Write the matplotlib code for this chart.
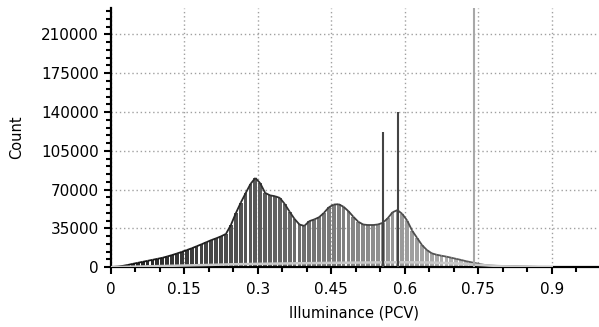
import numpy as np
import matplotlib
matplotlib.use("Agg")
import matplotlib.pyplot as plt
from matplotlib.collections import LineCollection
from matplotlib.ticker import MultipleLocator, FixedLocator

# histogram bins (left edges, step 0.01) and counts
bin_left = [round(0.01 * i, 2) for i in range(90)]
counts = [200, 500, 1200, 2000, 3000, 3900, 4800, 5700, 6600, 7500,
          8400, 9600, 10900, 12300, 13800, 15400, 17000, 18800, 20600, 22500,
          24400, 26000, 27800, 30000, 38000, 48500, 58000, 66600, 75000, 80500,
          75700, 67000, 64800, 64000, 62500, 57000, 50000, 43500, 38500, 37200,
          41500, 43000, 45000, 49000, 54000, 56500, 56800, 54500, 50500, 45500,
          41000, 38500, 38000, 38000, 38500, 40000, 44000, 49500, 51500, 48000,
          42000, 33000, 26500, 20000, 15500, 12500, 11200, 10300, 9500, 8500,
          7500, 6500, 5400, 4500, 3600, 2600, 1900, 1500, 1200, 1000,
          900, 800, 700, 600, 500, 400, 300, 200, 100, 50]

# low secondary curve
low_x = [0.0, 0.05, 0.1, 0.15, 0.2, 0.25, 0.3, 0.35, 0.4, 0.45, 0.5, 0.55,
         0.6, 0.65, 0.7, 0.75, 0.8, 0.85, 0.9]
low_y = [0, 500, 1000, 1500, 2000, 2600, 3000, 3300, 3600, 3900, 4100, 4300,
         4400, 4200, 3500, 2000, 800, 200, 0]

# spikes
spike_x = [0.556, 0.586, 0.742]
spike_y = [122000, 140000, 300000]
spike_colors = ["#444444", "#444444", "#a8a8a8"]

xticks = [0, 0.15, 0.3, 0.45, 0.6, 0.75, 0.9]
xticklabels = ["0", "0.15", "0.3", "0.45", "0.6", "0.75", "0.9"]
yticks = [0, 35000, 70000, 105000, 140000, 175000, 210000]

plt.rcParams['font.family'] = ['DejaVu Sans']
fig = plt.figure(figsize=(5.99, 3.27), dpi=100)
ax = fig.add_axes([0.185, 0.183, 0.813, 0.793])

bl = np.array(bin_left)
c = np.array(counts)
gray = np.clip(0.1 + 0.85 * (bl + 0.005), 0, 0.85)
cols = [(g, g, g) for g in gray]
ax.bar(bl + 0.005, c, width=0.0078, color=cols, linewidth=0, zorder=2)

# dark outline on top of the bars
xc = bl + 0.005
pts = np.column_stack([xc, c])
segs = np.stack([pts[:-1], pts[1:]], axis=1)
ecol = [(g * 0.5, g * 0.5, g * 0.5) for g in gray[:-1]]
ax.add_collection(LineCollection(segs, colors=ecol, linewidths=1.3, zorder=3))

ax.plot(low_x, low_y, color="#c8c8c8", lw=1.8, zorder=4)

for sx, sy, sc in zip(spike_x, spike_y, spike_colors):
    ax.vlines(sx, 0, sy, color=sc, lw=1.5, zorder=5)

ax.set_xlim(0, 0.994)
ax.set_ylim(0, 234000)
ax.xaxis.set_major_locator(FixedLocator(xticks))
ax.set_xticklabels(xticklabels)
ax.xaxis.set_minor_locator(MultipleLocator(0.05))
ax.yaxis.set_major_locator(FixedLocator(yticks))
ax.yaxis.set_minor_locator(MultipleLocator(7000))

ax.grid(True, which='major', color='#a0a0a0', linestyle=(0, (1, 2)), linewidth=1, zorder=0)
ax.set_axisbelow(True)
for s in ['top', 'right']:
    ax.spines[s].set_visible(False)
for s in ['left', 'bottom']:
    ax.spines[s].set_linewidth(1.6)
    ax.spines[s].set_color('black')

ax.tick_params(axis='both', which='major', length=5, width=1.5, labelsize=11, colors='black')
ax.tick_params(axis='both', which='minor', length=3.5, width=1.5)
ax.tick_params(axis='x', pad=6)
ax.set_xlabel("Illuminance (PCV)", fontsize=10.5, labelpad=6)
ax.set_ylabel("Count", fontsize=10.5, labelpad=12)

fig.savefig("out.png", dpi=100)
